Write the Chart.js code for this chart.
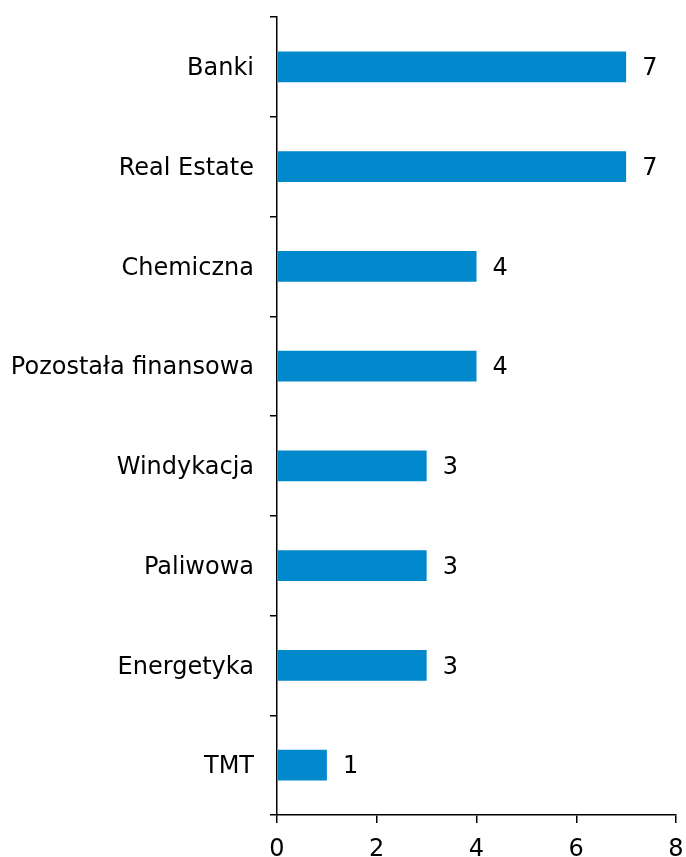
<!DOCTYPE html>
<html>
<head>
<meta charset="utf-8">
<script src="https://cdn.jsdelivr.net/npm/chart.js@4/dist/chart.umd.min.js"></script>
<style>
  html, body { margin: 0; padding: 0; background: #fff; }
  #wrap { width: 686px; height: 857px; }
</style>
</head>
<body>
<div id="wrap"><canvas id="myChart" width="686" height="857"></canvas></div>
<script>
const categories = ["Banki", "Real Estate", "Chemiczna", "Pozostała finansowa", "Windykacja", "Paliwowa", "Energetyka", "TMT"];
const counts = [7, 7, 4, 4, 3, 3, 3, 1];
const xTicks = [0, 2, 4, 6, 8];

const barColor = "#0088cc";
const fontFamily = "'DejaVu Sans', Verdana, sans-serif";
const fontSize = 24;

// value labels at the end of each bar
const valueLabels = {
  id: "valueLabels",
  afterDatasetsDraw(chart) {
    const { ctx } = chart;
    const meta = chart.getDatasetMeta(0);
    ctx.save();
    ctx.font = fontSize + "px " + fontFamily;
    ctx.fillStyle = "#000";
    ctx.textAlign = "left";
    ctx.textBaseline = "middle";
    meta.data.forEach((bar, i) => {
      ctx.fillText(String(counts[i]), bar.x + 16, bar.y + 2);
    });
    ctx.restore();
  }
};

const ctx = document.getElementById("myChart").getContext("2d");
new Chart(ctx, {
  type: "bar",
  data: {
    labels: categories,
    datasets: [{
      data: counts,
      backgroundColor: barColor,
      borderWidth: 0,
      categoryPercentage: 1,
      barPercentage: 0.31
    }]
  },
  options: {
    indexAxis: "y",
    responsive: false,
    animation: false,
    layout: { padding: { top: 17, right: 10, left: 0, bottom: 0 } },
    plugins: { legend: { display: false }, tooltip: { enabled: false } },
    scales: {
      x: {
        min: 0,
        max: 8,
        afterBuildTicks: axis => { axis.ticks = xTicks.map(v => ({ value: v })); },
        afterFit: axis => { axis.height = 42; axis.paddingRight = 0; axis.paddingLeft = 0; },
        border: { color: "#000", width: 1.5 },
        grid: { drawOnChartArea: false, drawTicks: true, tickLength: 8, color: "#000", lineWidth: 1.5 },
        ticks: { color: "#000", font: { family: fontFamily, size: fontSize }, padding: 12 }
      },
      y: {
        afterFit: axis => { axis.width = 277; axis.paddingTop = 0; axis.paddingBottom = 0; },
        border: { color: "#000", width: 1.5 },
        grid: { offset: true, drawOnChartArea: false, drawTicks: true, tickLength: 7, color: "#000", lineWidth: 1.5 },
        ticks: { color: "#000", font: { family: fontFamily, size: fontSize }, padding: 16, labelOffset: 2 }
      }
    }
  },
  plugins: [valueLabels]
});
</script>
</body>
</html>
